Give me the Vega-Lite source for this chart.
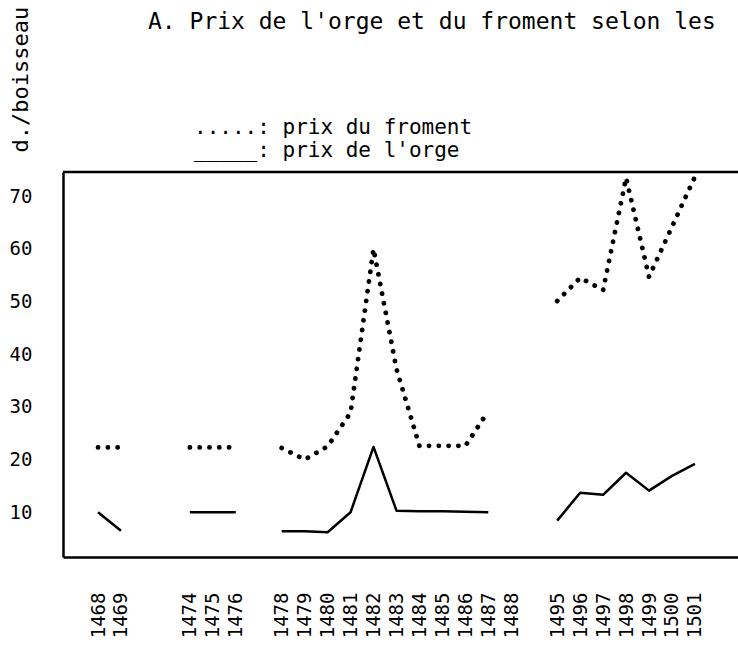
{
  "$schema": "https://vega.github.io/schema/vega-lite/v6.json",
  "width": 675,
  "height": 385,
  "autosize": {"type": "none"},
  "padding": {"left": 63, "top": 172, "right": 0, "bottom": 92},
  "background": "white",
  "title": {
    "text": "A. Prix de l'orge et du froment selon les",
    "font": "DejaVu Sans Mono",
    "fontSize": 23,
    "fontWeight": "normal",
    "color": "black",
    "anchor": "start",
    "frame": "group",
    "dx": 85,
    "offset": -28
  },
  "config": {
    "view": {"stroke": null},
    "font": "DejaVu Sans Mono"
  },
  "datasets": {
    "prix": [
      {"year": "1468", "series": "froment", "seg": "A", "price": 22.3},
      {"year": "1469", "series": "froment", "seg": "A", "price": 22.3},
      {"year": "1474", "series": "froment", "seg": "B", "price": 22.3},
      {"year": "1475", "series": "froment", "seg": "B", "price": 22.3},
      {"year": "1476", "series": "froment", "seg": "B", "price": 22.3},
      {"year": "1478", "series": "froment", "seg": "C", "price": 22.2},
      {"year": "1479", "series": "froment", "seg": "C", "price": 20.0},
      {"year": "1480", "series": "froment", "seg": "C", "price": 22.5},
      {"year": "1481", "series": "froment", "seg": "C", "price": 28.9},
      {"year": "1482", "series": "froment", "seg": "C", "price": 60.0},
      {"year": "1483", "series": "froment", "seg": "C", "price": 37.2},
      {"year": "1484", "series": "froment", "seg": "C", "price": 22.6},
      {"year": "1485", "series": "froment", "seg": "C", "price": 22.6},
      {"year": "1486", "series": "froment", "seg": "C", "price": 22.6},
      {"year": "1487", "series": "froment", "seg": "C", "price": 29.2},
      {"year": "1495", "series": "froment", "seg": "D", "price": 50.1},
      {"year": "1496", "series": "froment", "seg": "D", "price": 54.5},
      {"year": "1497", "series": "froment", "seg": "D", "price": 52.2},
      {"year": "1498", "series": "froment", "seg": "D", "price": 73.5},
      {"year": "1499", "series": "froment", "seg": "D", "price": 54.7},
      {"year": "1500", "series": "froment", "seg": "D", "price": 64.2},
      {"year": "1501", "series": "froment", "seg": "D", "price": 73.7},
      {"year": "1468", "series": "orge", "seg": "A", "price": 10.0},
      {"year": "1469", "series": "orge", "seg": "A", "price": 6.5},
      {"year": "1474", "series": "orge", "seg": "B", "price": 10.0},
      {"year": "1475", "series": "orge", "seg": "B", "price": 10.0},
      {"year": "1476", "series": "orge", "seg": "B", "price": 10.0},
      {"year": "1478", "series": "orge", "seg": "C", "price": 6.4},
      {"year": "1479", "series": "orge", "seg": "C", "price": 6.4},
      {"year": "1480", "series": "orge", "seg": "C", "price": 6.2},
      {"year": "1481", "series": "orge", "seg": "C", "price": 10.0},
      {"year": "1482", "series": "orge", "seg": "C", "price": 22.4},
      {"year": "1483", "series": "orge", "seg": "C", "price": 10.3},
      {"year": "1484", "series": "orge", "seg": "C", "price": 10.2},
      {"year": "1485", "series": "orge", "seg": "C", "price": 10.2},
      {"year": "1486", "series": "orge", "seg": "C", "price": 10.1},
      {"year": "1487", "series": "orge", "seg": "C", "price": 10.0},
      {"year": "1495", "series": "orge", "seg": "D", "price": 8.4},
      {"year": "1496", "series": "orge", "seg": "D", "price": 13.7},
      {"year": "1497", "series": "orge", "seg": "D", "price": 13.3},
      {"year": "1498", "series": "orge", "seg": "D", "price": 17.5},
      {"year": "1499", "series": "orge", "seg": "D", "price": 14.1},
      {"year": "1500", "series": "orge", "seg": "D", "price": 16.9},
      {"year": "1501", "series": "orge", "seg": "D", "price": 19.2}
    ]
  },
  "data": {"name": "prix"},
  "encoding": {
    "x": {
      "field": "year",
      "type": "ordinal",
      "scale": {
        "type": "point",
        "domain": ["     ", "1468", "1469", " ", "  ", "1474", "1475", "1476", "   ", "1478", "1479", "1480", "1481", "1482", "1483", "1484", "1485", "1486", "1487", "1488", "    ", "1495", "1496", "1497", "1498", "1499", "1500", "1501", "      "],
        "padding": 0.7,
        "align": 0.375
      },
      "axis": {
        "title": null,
        "labelAngle": -90,
        "labelFont": "DejaVu Sans Mono",
        "labelFontSize": 19,
        "labelColor": "black",
        "labelPadding": 35,
        "labelOverlap": false,
        "ticks": false,
        "grid": false,
        "domain": true,
        "domainColor": "black",
        "domainWidth": 2.5
      }
    },
    "y": {
      "field": "price",
      "type": "quantitative",
      "scale": {"domain": [1.5, 74.6], "nice": false, "zero": false},
      "axis": {
        "title": "d./boisseau",
        "titleFont": "DejaVu Sans Mono",
        "titleFontSize": 22,
        "titleFontWeight": "normal",
        "titleColor": "black",
        "titleAngle": -90,
        "titleAlign": "left",
        "titleBaseline": "middle",
        "titleX": -43,
        "titleY": -20,
        "values": [10, 20, 30, 40, 50, 60, 70],
        "labelFont": "DejaVu Sans Mono",
        "labelFontSize": 19,
        "labelColor": "black",
        "labelPadding": 31,
        "ticks": false,
        "grid": false,
        "domain": true,
        "domainColor": "black",
        "domainWidth": 2.5
      }
    },
    "color": {
      "field": "series",
      "type": "nominal",
      "scale": {"domain": ["froment", "orge"], "range": ["black", "black"]},
      "legend": {
        "title": null,
        "orient": "none",
        "legendX": 110,
        "legendY": -55,
        "labelExpr": "datum.label == 'froment' ? '.....: prix du froment' : \"_____: prix de l'orge\"",
        "labelFont": "DejaVu Sans Mono",
        "labelFontSize": 21,
        "labelColor": "black",
        "labelLimit": 0,
        "labelOffset": 0,
        "symbolOpacity": 0,
        "symbolSize": 1,
        "symbolStrokeWidth": 0,
        "rowPadding": 1,
        "padding": 0
      }
    },
    "detail": {"field": "seg", "type": "nominal"}
  },
  "layer": [
    {
      "transform": [{"filter": "datum.series == 'froment'"}],
      "mark": {"type": "line", "strokeWidth": 4.8, "strokeDash": [0.1, 9.7], "strokeCap": "round"}
    },
    {
      "transform": [{"filter": "datum.series == 'orge'"}],
      "mark": {"type": "line", "strokeWidth": 2.5, "strokeJoin": "round"}
    },
    {
      "data": {"values": [{"top": 74.6}]},
      "mark": {"type": "rule", "strokeWidth": 2.5, "color": "black"},
      "encoding": {
        "x": null,
        "color": null,
        "detail": null,
        "y": {"field": "top", "type": "quantitative"}
      }
    }
  ]
}
